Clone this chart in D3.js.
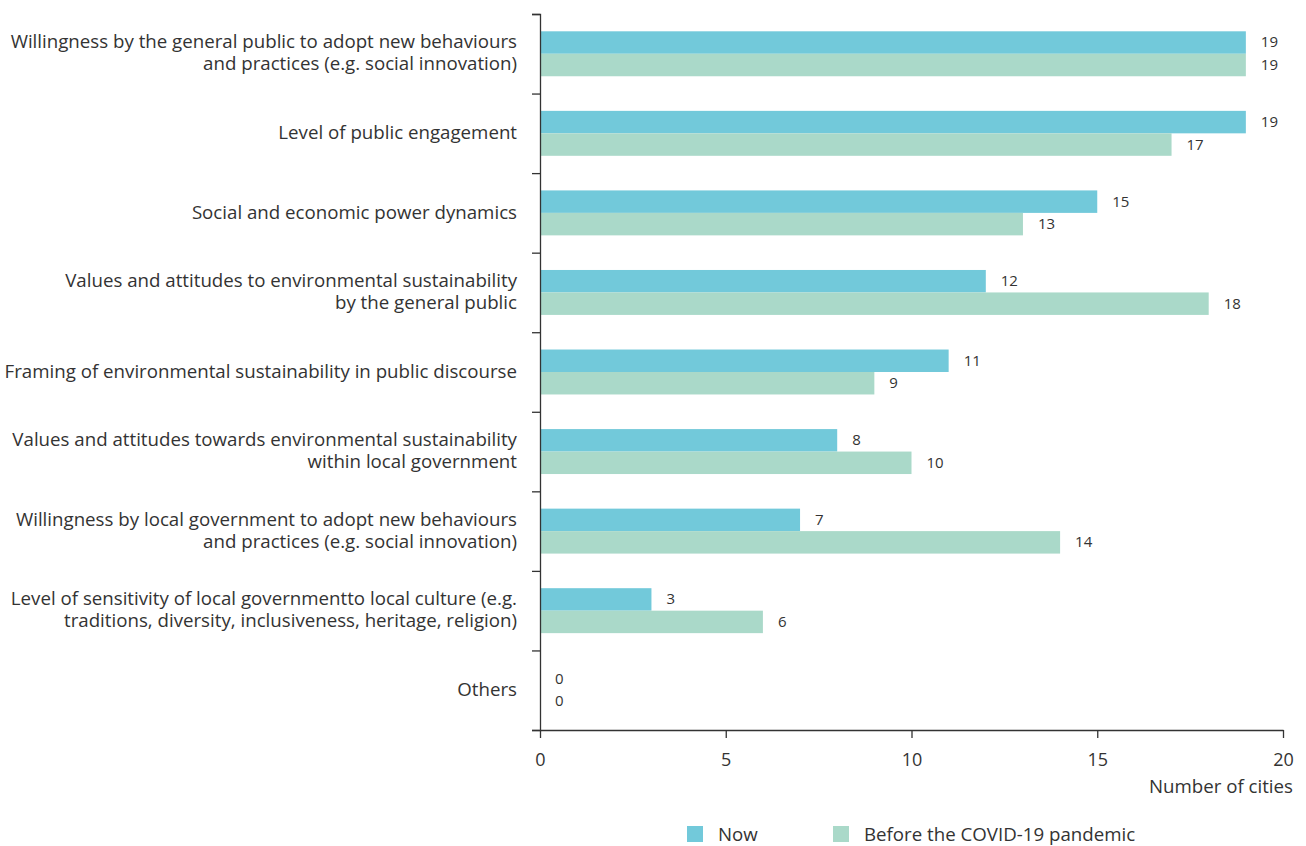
<!DOCTYPE html>
<html><head><meta charset="utf-8">
<script src="https://cdn.jsdelivr.net/npm/d3@7"></script>
<style>body{margin:0;background:#fff;} text{font-family:"Open Sans",sans-serif;}</style>
</head><body><svg id="c" width="1306" height="846"></svg>
<script>
const categories = [
  ["Willingness by the general public to adopt new behaviours","and practices (e.g. social innovation)"],
  ["Level of public engagement"],
  ["Social and economic power dynamics"],
  ["Values and attitudes to environmental sustainability","by the general public"],
  ["Framing of environmental sustainability in public discourse"],
  ["Values and attitudes towards environmental sustainability","within local government"],
  ["Willingness by local government to adopt new behaviours","and practices (e.g. social innovation)"],
  ["Level of sensitivity of local governmentto local culture (e.g.","traditions, diversity, inclusiveness, heritage, religion)"],
  ["Others"]
];
const nowValues = [19, 19, 15, 12, 11, 8, 7, 3, 0];
const beforeValues = [19, 17, 13, 18, 9, 10, 14, 6, 0];
const seriesNames = ["Now", "Before the COVID-19 pandemic"];
const seriesColors = ["#72c9da", "#aad9c9"];
const xTicks = [0, 5, 10, 15, 20];

(function () {
const svg = d3.select("#c");
const pL = 540, pR = 1283, pT = 14, pB = 730;
const x = d3.scaleLinear().domain([0, 20]).range([pL, pR]);
const y = d3.scaleBand().domain(d3.range(categories.length)).range([pT, pB]).paddingInner(0.435).paddingOuter(0.2175);
const sub = d3.scaleBand().domain([0, 1]).range([0, y.bandwidth()]);
const series = [nowValues, beforeValues];
const ink = "#333";
const fs = 18.7;

series.forEach((vals, si) => {
  svg.append("g").selectAll("rect").data(vals).join("rect")
    .attr("x", x(0)).attr("y", (d, i) => y(i) + sub(si))
    .attr("width", d => x(d) - x(0)).attr("height", sub.bandwidth())
    .attr("fill", seriesColors[si]);
  svg.append("g").selectAll("text").data(vals).join("text")
    .attr("x", d => x(d) + 15).attr("y", (d, i) => y(i) + sub(si) + sub.bandwidth() / 2)
    .attr("dy", "0.33em").attr("font-size", 15).attr("fill", ink).text(d => d);
});

const yb = d3.scaleLinear().domain([0, categories.length]).range([pT, pB]);
const yAxis = svg.append("g").attr("transform", `translate(${pL},0)`)
  .call(d3.axisLeft(yb).tickValues(d3.range(categories.length + 1)).tickSize(8).tickFormat(""));
yAxis.selectAll("path,line").attr("stroke", ink).attr("stroke-width", 1.3);

const xAxis = svg.append("g").attr("transform", `translate(0,${pB})`)
  .call(d3.axisBottom(x).tickValues(xTicks).tickSize(8).tickSizeOuter(0).tickPadding(15));
xAxis.selectAll("path,line").attr("stroke", ink).attr("stroke-width", 1.3);
xAxis.selectAll("text").attr("font-size", 18).attr("fill", ink).attr("font-family", "Open Sans");

svg.append("g").selectAll("text").data(categories).join("text")
  .attr("text-anchor", "end").attr("font-size", fs).attr("fill", ink)
  .attr("transform", (d, i) => `translate(517,${y(i) + y.bandwidth() / 2})`)
  .each(function (lines) {
    const t = d3.select(this);
    const n = lines.length;
    lines.forEach((l, k) => {
      t.append("tspan").attr("x", 0).attr("y", (k - (n - 1) / 2) * 22).attr("dy", "0.3em").text(l);
    });
  });

svg.append("text").attr("x", 1293).attr("y", 793).attr("text-anchor", "end")
  .attr("font-size", fs).attr("fill", ink).text("Number of cities");

const legX = [687, 833];
seriesNames.forEach((nm, i) => {
  svg.append("rect").attr("x", legX[i]).attr("y", 826).attr("width", 16).attr("height", 16).attr("fill", seriesColors[i]);
  svg.append("text").attr("x", legX[i] + 31).attr("y", 834).attr("dy", "0.35em")
    .attr("font-size", fs).attr("fill", ink).text(nm);
});
})();
</script></body></html>
